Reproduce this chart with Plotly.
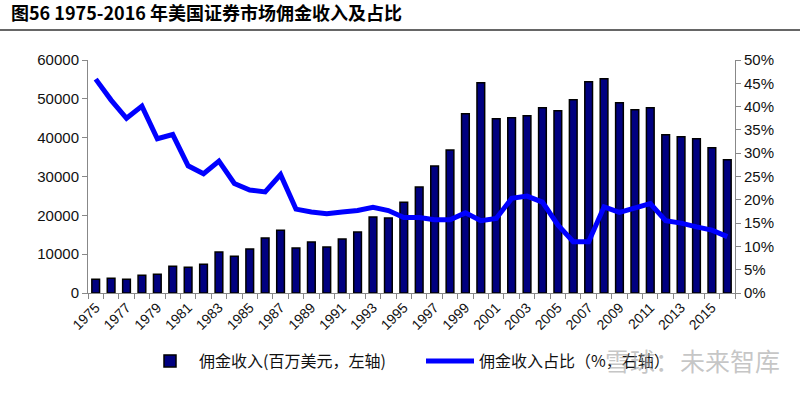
import plotly.graph_objects as go

years = list(range(1975, 2017))
commission = [3530, 3780, 3530, 4560, 4810, 6870, 6620, 7390, 10560, 9450,
              11330, 14160, 16140, 11590, 13130, 11850, 13900, 15700, 19570, 19310,
              23360, 27300, 32700, 36820, 46170, 54160, 44880, 45150, 45660, 47720,
              46950, 49780, 54410, 55190, 49000, 47200, 47720, 40760, 40250, 39730,
              37420, 34330]
share = [45.9, 41.4, 37.5, 40.1, 33.1, 34.0, 27.3, 25.6, 28.3, 23.5,
         22.1, 21.7, 25.4, 18.0, 17.4, 17.0, 17.4, 17.7, 18.4, 17.7,
         16.2, 16.2, 15.7, 15.7, 17.2, 15.5, 16.0, 20.3, 20.8, 19.5,
         14.6, 11.0, 11.0, 18.5, 17.3, 18.2, 19.2, 15.5, 15.0, 14.2,
         13.5, 12.1]
tick_years = list(range(1975, 2016, 2))
title_text = "图56 1975-2016 年美国证券市场佣金收入及占比"
bar_name = "佣金收入(百万美元，左轴)"
line_name = "佣金收入占比（%，右轴）"
watermark = "雪球：未来智库"

share_frac = [v / 100 for v in share]

PL, PR, PT, PB = 88, 735, 60, 293
PW, PH = PR - PL, PB - PT

fig = go.Figure()
fig.add_trace(go.Bar(
    x=years, y=commission, name=bar_name, width=0.5,
    marker=dict(color="#000080", line=dict(color="#000000", width=1.5)),
    yaxis="y"))
fig.add_trace(go.Scatter(
    x=years, y=share_frac, name=line_name, mode="lines",
    line=dict(color="#0000FF", width=5), yaxis="y2"))

axis_font = dict(family="Liberation Sans, Arial", size=15, color="#111111")

fig.update_layout(
    width=800, height=393,
    margin=dict(l=PL, r=800 - PR, t=PT, b=393 - PB, autoexpand=False),
    paper_bgcolor="white", plot_bgcolor="white",
    showlegend=True,
    legend=dict(orientation="h", x=(153 - 12 - PL) / PW, xanchor="left",
                y=-(344 - PB) / PH, yanchor="top",
                font=dict(family="Noto Sans CJK SC", size=16, color="#111111"),
                entrywidth=217, itemwidth=48, bgcolor="rgba(0,0,0,0)"),
    title=dict(text="<b>" + title_text + "</b>", x=11 / 800, xanchor="left",
               xref="container", y=1 - 14 / 393, yanchor="middle", yref="container",
               font=dict(family="Noto Sans CJK SC", size=18, color="#000000")),
    xaxis=dict(range=[1974.5, 2016.5], tickmode="array", tickvals=tick_years,
               ticktext=[str(y) for y in tick_years], tickangle=-45, ticks="",
               tickfont=dict(family="Liberation Sans, Arial", size=14, color="#111111"),
               showline=True, linecolor="#888888", linewidth=1, showgrid=False,
               zeroline=False, automargin=False,
               minor=dict(tickmode="linear", tick0=0.5, dtick=1, ticks="outside",
                          ticklen=5, tickcolor="#888888", tickwidth=1, showgrid=False)),
    yaxis=dict(range=[0, 60000], dtick=10000, tickformat="d", showgrid=False,
               showline=True, linecolor="#888888", linewidth=1, ticks="outside",
               ticklen=5, tickcolor="#888888", tickfont=axis_font, zeroline=False,
               automargin=False),
    yaxis2=dict(range=[0, 0.5], dtick=0.05, tickformat=".0%", overlaying="y",
                side="right", showgrid=False, showline=True, linecolor="#888888",
                linewidth=1, ticks="outside", ticklen=5, tickcolor="#888888",
                tickfont=axis_font, zeroline=False, automargin=False),
)

# thin rule under the title
fig.add_shape(type="line", xref="paper", yref="paper",
              x0=-PL / PW, x1=(800 - PL) / PW,
              y0=(PB - 30) / PH, y1=(PB - 30) / PH,
              line=dict(color="#666666", width=2))

fig.add_annotation(text=watermark, xref="paper", yref="paper",
                   x=(603 - PL) / PW, xanchor="left", y=(PB - 360) / PH, yanchor="middle",
                   showarrow=False,
                   font=dict(family="Noto Sans CJK SC", size=25, color="rgba(160,160,160,0.6)"))

fig.write_html(
    "out.html",
    post_script=("var gd=document.getElementById('{plot_id}');"
                 "if (gd) { gd.style.position='absolute'; gd.style.left='0px'; gd.style.top='0px'; }"),
    config={"displayModeBar": False})
